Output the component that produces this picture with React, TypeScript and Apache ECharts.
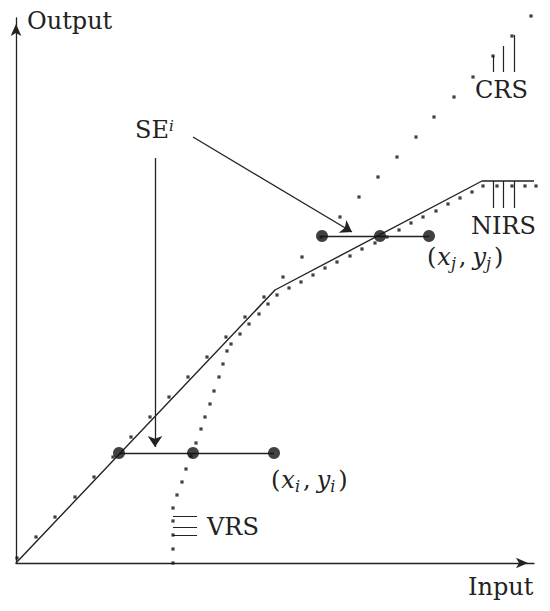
import React, { useEffect, useRef } from "react";
import * as echarts from "echarts";

// Data units: x = input, y = output
const crsX = [1, 20, 39, 59, 78, 97, 115, 134, 153, 172, 191, 210, 229, 248, 267, 286, 305, 324, 343, 362, 381, 400, 418, 438, 457, 477, 496, 515];
const crsY = [5, 26, 46, 66, 86, 106, 126, 146, 166, 186, 206, 226, 246, 266, 286, 306, 326, 346, 366, 386, 406, 426, 446, 466, 486, 507, 527, 547];

const curveX = [157, 157, 157, 157, 157, 161, 166, 170, 175, 180, 185, 189, 194, 198, 203, 207, 211, 215, 224, 233, 243, 252, 261, 273, 285, 297, 309, 321, 334, 346, 359, 371, 383, 395, 407, 420, 432, 444, 456, 467, 481, 496, 509, 520];
const curveY = [0, 14, 28, 42, 55, 68, 81, 94, 107, 120, 134, 146, 159, 172, 186, 199, 212, 219, 229, 239, 249, 259, 268, 275, 281, 288, 295, 301, 307, 314, 320, 326, 333, 340, 346, 352, 359, 365, 371, 377, 377, 377, 377, 377];

const frontierX = [0, 259, 466, 518];
const frontierY = [0, 273, 382, 382];

const unitIX = [103, 177, 258];
const unitIY = 110;
const unitJX = [306, 364, 413];
const unitJY = 327;

const crsTickX = [477, 487, 498];
const crsTickTop = [507, 517, 528];
const crsTickBottom = 491;
const nirsTickX = [477, 487, 498];
const nirsTickTop = 382;
const nirsTickBottom = 355;
const vrsTickY = [47, 36, 28];
const vrsTickX0 = 157;
const vrsTickX1 = 181;

const arrowFrom = [[139, 405], [177, 426]];
const arrowTo = [[139, 116], [336, 331]];

const INK = "#222";
const FAMILY = '"DejaVu Serif", serif';

function txt(text: string, x: number, baseline: number, size: number, italic = false) {
  const font = `${italic ? "italic " : ""}${size}px ${FAMILY}`;
  return {
    type: "text",
    x,
    y: baseline - 0.346 * size,
    silent: true,
    style: {
      text,
      font,
      fill: INK,
      align: "left",
      verticalAlign: "middle",
      textAlign: "left",
      textVerticalAlign: "middle",
    },
  };
}

// coordinate label "(x_k, y_k)" as a single rich text
function coordLabel(sub: string, x: number, baseline: number) {
  const rich = {
    n: { font: `24px ${FAMILY}`, fill: INK, lineHeight: 30, verticalAlign: "middle" },
    o: { font: `24px ${FAMILY}`, fill: INK, lineHeight: 30, verticalAlign: "middle", padding: [0, 1, 0, 0] },
    m: { font: `italic 24px ${FAMILY}`, fill: INK, lineHeight: 30, verticalAlign: "middle" },
    s: { font: `italic 16px ${FAMILY}`, fill: INK, lineHeight: 13, verticalAlign: "bottom", padding: [0, 3, 0, 0] },
    c: { font: `24px ${FAMILY}`, fill: INK, lineHeight: 30, verticalAlign: "middle", padding: [0, 6, 0, 0] },
  };
  return {
    type: "text",
    x,
    y: baseline - 15 - 0.346 * 24,
    silent: true,
    style: {
      text: `{o|(}{m|x}{s|${sub}}{c|,}{m|y}{s|${sub}}{n|)}`,
      rich,
      fill: INK,
      font: `24px ${FAMILY}`,
      align: "left",
      verticalAlign: "top",
      textAlign: "left",
      textVerticalAlign: "top",
    },
  };
}

export default function App() {
  const ref = useRef<HTMLDivElement>(null);
  useEffect(() => {
    if (!ref.current) return;
    const chart = echarts.init(ref.current, null, { renderer: "svg" });

    const tickCoords: number[][][] = [];
    crsTickX.forEach((x, i) => tickCoords.push([[x, crsTickBottom], [x, crsTickTop[i]]]));
    nirsTickX.forEach((x) => tickCoords.push([[x, nirsTickBottom], [x, nirsTickTop]]));
    vrsTickY.forEach((y) => tickCoords.push([[vrsTickX0, y], [vrsTickX1, y]]));

    const segCoords = [
      [[unitIX[0], unitIY], [unitIX[2], unitIY]],
      [[unitJX[0], unitJY], [unitJX[2], unitJY]],
    ];

    const axisCommon = {
      type: "value",
      axisTick: { show: false },
      axisLabel: { show: false },
      splitLine: { show: false },
      axisLine: {
        show: true,
        symbol: ["none", "arrow"],
        symbolSize: [8, 12],
        symbolOffset: [0, -6],
        lineStyle: { color: INK, width: 1.3 },
      },
    };

    const option: any = {
      animation: false,
      backgroundColor: "#fff",
      grid: { left: 16, right: 16, top: 18, bottom: 48, containLabel: false },
      xAxis: { ...axisCommon, min: 0, max: 518 },
      yAxis: { ...axisCommon, min: 0, max: 545 },
      series: [
        {
          type: "lines",
          coordinateSystem: "cartesian2d",
          silent: true,
          symbol: "none",
          lineStyle: { color: INK, width: 1.2, opacity: 1 },
          data: tickCoords.map((c) => ({ coords: c })),
          z: 3,
        },
        {
          type: "line",
          silent: true,
          symbol: "none",
          data: frontierX.map((x, i) => [x, frontierY[i]]),
          lineStyle: { color: INK, width: 1.4 },
          clip: false,
          z: 3,
        },
        {
          type: "scatter",
          silent: true,
          symbol: "rect",
          symbolSize: 3.2,
          clip: false,
          itemStyle: { color: "#111" },
          data: crsX.map((x, i) => [x, crsY[i]]),
          z: 4,
        },
        {
          type: "scatter",
          silent: true,
          symbol: "rect",
          symbolSize: 3.2,
          clip: false,
          itemStyle: { color: "#111" },
          data: curveX.map((x, i) => [x, curveY[i]]),
          z: 4,
        },
        {
          type: "lines",
          coordinateSystem: "cartesian2d",
          silent: true,
          symbol: "none",
          lineStyle: { color: INK, width: 1.3, opacity: 1 },
          data: segCoords.map((c) => ({ coords: c })),
          z: 5,
        },
        {
          type: "lines",
          coordinateSystem: "cartesian2d",
          silent: true,
          symbol: ["none", "arrow"],
          symbolSize: [7, 11],
          lineStyle: { color: INK, width: 1.3, opacity: 1 },
          data: arrowFrom.map((f, i) => ({ coords: [f, arrowTo[i]] })),
          z: 6,
        },
        {
          type: "scatter",
          silent: true,
          symbol: "circle",
          symbolSize: 12,
          clip: false,
          itemStyle: { color: "#111" },
          data: [
            ...unitIX.map((x) => [x, unitIY]),
            ...unitJX.map((x) => [x, unitJY]),
          ],
          z: 7,
        },
      ],
      graphic: [
        txt("Output", 27, 29, 24),
        txt("Input", 468, 595, 24),
        txt("CRS", 475, 98, 24),
        txt("NIRS", 471, 234, 24),
        txt("VRS", 207, 535, 24),
        txt("SE", 135, 138, 24),
        txt("i", 169, 131, 15, true),
        coordLabel("i", 271, 488),
        coordLabel("j", 427, 265),
      ],
    };
    chart.setOption(option);
    return () => chart.dispose();
  }, []);

  return (
    <div
      ref={ref}
      style={{ position: "fixed", left: 0, top: 0, width: 550, height: 611, background: "#fff" }}
    />
  );
}
